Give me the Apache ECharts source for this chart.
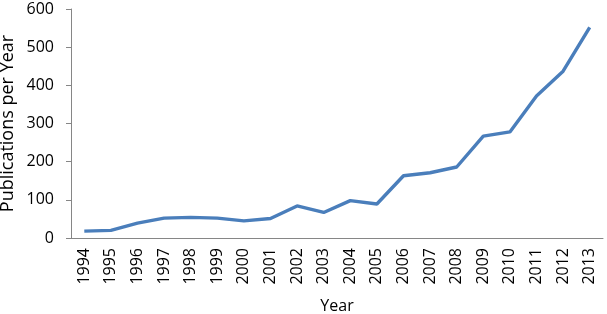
<!DOCTYPE html>
<html>
<head>
<meta charset="utf-8">
<script src="https://cdn.jsdelivr.net/npm/echarts@6/dist/echarts.min.js"></script>
<style>
  html, body { margin: 0; padding: 0; background: #fff; }
  #chart { width: 607px; height: 314px; }
</style>
</head>
<body>
<div id="chart"></div>
<script>
    'use strict';

    var years = ['1994', '1995', '1996', '1997', '1998', '1999', '2000', '2001', '2002', '2003',
        '2004', '2005', '2006', '2007', '2008', '2009', '2010', '2011', '2012', '2013'];
    var publications = [18, 20, 39, 52, 54, 52, 45, 51, 84, 67,
        98, 89, 163, 171, 186, 267, 278, 372, 437, 552];

    var axisGray = '#868686';
    var font = 'Open Sans';

    var chart = echarts.init(document.getElementById('chart'));
    chart.setOption({
        animation: false,
        grid: { left: 71, right: 4, top: 9, bottom: 76, containLabel: false, outerBoundsMode: 'none' },
        xAxis: {
            type: 'category',
            data: years,
            boundaryGap: true,
            name: 'Year',
            nameLocation: 'middle',
            nameGap: 60,
            nameMoveOverlap: false,
            nameTextStyle: { color: '#000', fontSize: 16, fontFamily: font },
            axisLine: { lineStyle: { color: axisGray, width: 1 } },
            axisTick: { length: 5, lineStyle: { color: axisGray } },
            axisLabel: { rotate: 90, color: '#000', fontSize: 16, fontFamily: font, margin: 10, interval: 0 }
        },
        yAxis: {
            type: 'value',
            min: 0,
            max: 600,
            interval: 100,
            name: 'Publications per Year',
            nameLocation: 'middle',
            nameGap: 54,
            nameMoveOverlap: false,
            nameTextStyle: { color: '#000', fontSize: 18, fontFamily: font },
            splitLine: { show: false },
            axisLine: { show: true, lineStyle: { color: axisGray, width: 1 } },
            axisTick: { show: true, length: 5, lineStyle: { color: axisGray } },
            axisLabel: { color: '#000', fontSize: 16, fontFamily: font, margin: 17 }
        },
        series: [{
            type: 'line',
            data: publications,
            symbol: 'none',
            lineStyle: { color: '#4A7EBB', width: 3.4 }
        }]
    });
</script>
</body>
</html>
